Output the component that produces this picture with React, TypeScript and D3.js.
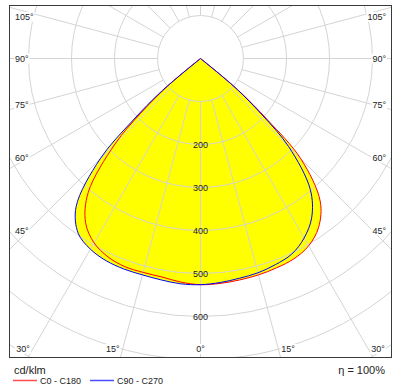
import React, { useRef, useEffect } from "react";
import * as d3 from "d3";

// gamma angles (deg from nadir) and intensities in cd/klm
const gammas = [0, 5, 10, 15, 20, 25, 30, 35, 40, 45, 47.5, 50, 52.5];
const c0 = [526, 525, 523, 521, 518, 514, 503, 479, 433, 330, 212, 112, 0];
const c180 = [526, 522, 516, 515, 515, 509, 495, 466, 406, 281, 190, 100, 0];
const c90 = [526, 523, 519, 516, 510, 502, 482, 451, 397, 290, 195, 105, 0];
const c270 = [526, 526, 523, 521, 521, 519, 512, 496, 450, 330, 215, 115, 0];

const ringValues = [100, 200, 300, 400, 500, 600, 700, 800, 900];
const ringLabels = [200, 300, 400, 500, 600];
const angleLabels = [0, 15, 30, 45, 60, 75, 90, 105];
const gridAngles = d3.range(0, 181, 15);

const legend = [
  { name: "C0 - C180", color: "#ff0000" },
  { name: "C90 - C270", color: "#0000ff" },
];

const W = 401;
const H = 389;
const frame = { left: 9.5, top: 5.5, right: 391.5, bottom: 357.5 };
const cx = 200.5;
const cy = 58.5;
const font = "'Liberation Sans', Arial, sans-serif";

export default function App() {
  const ref = useRef<SVGSVGElement>(null);

  useEffect(() => {
    if (!ref.current) return;
    const svg = d3.select(ref.current);
    svg.selectAll("*").remove();

    const r = d3.scaleLinear().domain([0, 100]).range([0, 43]);
    const rad = (g: number) => (g * Math.PI) / 180;

    svg.append("rect").attr("width", W).attr("height", H).attr("fill", "#fff");

    svg
      .append("clipPath")
      .attr("id", "frameClip")
      .append("rect")
      .attr("x", frame.left)
      .attr("y", frame.top)
      .attr("width", frame.right - frame.left)
      .attr("height", frame.bottom - frame.top);

    const plot = svg
      .append("g")
      .attr("clip-path", "url(#frameClip)")
      .append("g")
      .attr("transform", `translate(${cx},${cy})`);

    // closed curve: left half (C180 / C270) then right half (C0 / C90)
    const makePts = (leftVals: number[], rightVals: number[]) => {
      const pts: [number, number][] = [];
      for (let i = gammas.length - 1; i >= 0; i--)
        pts.push([Math.PI + rad(gammas[i]), leftVals[i]]);
      for (let i = 1; i < gammas.length; i++)
        pts.push([Math.PI - rad(gammas[i]), rightVals[i]]);
      return pts;
    };

    const line = d3
      .lineRadial<[number, number]>()
      .angle((d) => d[0])
      .radius((d) => r(d[1]))
      .curve(d3.curveCatmullRom.alpha(0.5));

    const curves = [
      { pts: makePts(c180, c0), color: legend[0].color },
      { pts: makePts(c270, c90), color: legend[1].color },
    ];

    curves.forEach((c) => {
      plot.append("path").attr("d", line(c.pts) + "Z").attr("fill", "#ffff00");
    });

    // grid
    plot
      .selectAll("circle.ring")
      .data(ringValues)
      .enter()
      .append("circle")
      .attr("r", (d) => r(d))
      .attr("fill", "none")
      .attr("stroke", "#d4d4d4")
      .attr("stroke-width", 1);

    const spokes: number[] = [];
    gridAngles.forEach((g) => {
      spokes.push(g);
      if (g > 0 && g < 180) spokes.push(-g);
    });
    plot
      .selectAll("line.spoke")
      .data(spokes)
      .enter()
      .append("line")
      .attr("x1", (g) => r(100) * Math.sin(rad(g)))
      .attr("y1", (g) => r(100) * Math.cos(rad(g)))
      .attr("x2", (g) => r(1000) * Math.sin(rad(g)))
      .attr("y2", (g) => r(1000) * Math.cos(rad(g)))
      .attr("stroke", "#d4d4d4")
      .attr("stroke-width", 1);

    plot
      .selectAll("text.ring")
      .data(ringLabels)
      .enter()
      .append("text")
      .attr("x", 0)
      .attr("y", (d) => r(d))
      .attr("dy", "0.35em")
      .attr("text-anchor", "middle")
      .attr("font-family", font)
      .attr("font-size", 9)
      .attr("fill", "#222")
      .text((d) => d);

    curves.forEach((c) => {
      plot
        .append("path")
        .attr("d", line(c.pts) + "Z")
        .attr("fill", "none")
        .attr("stroke", c.color)
        .attr("stroke-width", 1);
    });

    // angle labels
    const labG = svg.append("g");
    const bottomY = 349;
    const limit = (Math.atan2(frame.right - cx, frame.bottom - cy) * 180) / Math.PI;
    angleLabels.forEach((g) => {
      [-1, 1].forEach((side) => {
        if (g === 0 && side === 1) return;
        const t = labG
          .append("text")
          .attr("font-family", font)
          .attr("font-size", 9)
          .attr("fill", "#222")
          .attr("dy", "0.35em")
          .text(`${g}°`);
        const w = (t.node() as SVGTextElement).getComputedTextLength();
        let x: number, y: number;
        if (g === 0) {
          x = cx - w / 2;
          y = bottomY;
        } else if (g < limit) {
          const rx = cx + side * (bottomY - cy) * Math.tan(rad(g));
          x = side < 0 ? rx - 3 - w : rx + 3;
          y = bottomY;
        } else if (side < 0) {
          x = frame.left + 5.5;
          const xr = x + w;
          y = cy + (cx - xr) / Math.tan(rad(g));
        } else {
          x = frame.right - 5.5 - w;
          y = cy + (x - cx) / Math.tan(rad(g));
        }
        y = Math.max(y, 17);
        t.attr("x", x).attr("y", y);
        labG
          .insert("rect", "text")
          .attr("x", x - 1)
          .attr("y", y - 5)
          .attr("width", w + 2)
          .attr("height", 10)
          .attr("fill", "#fff");
      });
    });

    // frame
    svg
      .append("rect")
      .attr("x", frame.left)
      .attr("y", frame.top)
      .attr("width", frame.right - frame.left)
      .attr("height", frame.bottom - frame.top)
      .attr("fill", "none")
      .attr("stroke", "#3a3a3a")
      .attr("stroke-width", 1);

    // legend
    svg
      .append("text")
      .attr("x", 14)
      .attr("y", 370)
      .attr("dy", "0.35em")
      .attr("font-family", font)
      .attr("font-size", 11)
      .attr("fill", "#222")
      .text("cd/klm");

    const lg = svg
      .selectAll("g.leg")
      .data(legend)
      .enter()
      .append("g")
      .attr("transform", (_, i) => `translate(${13 + i * 77},380.5)`);
    lg.append("line")
      .attr("x1", 0)
      .attr("x2", 24)
      .attr("stroke", (d) => d.color)
      .attr("stroke-opacity", 0.7)
      .attr("stroke-width", 1.5);
    lg.append("text")
      .attr("x", 27)
      .attr("dy", "0.35em")
      .attr("font-family", font)
      .attr("font-size", 9)
      .attr("fill", "#222")
      .text((d) => d.name);

    svg
      .append("text")
      .attr("x", 385)
      .attr("y", 370)
      .attr("dy", "0.35em")
      .attr("text-anchor", "end")
      .attr("font-family", font)
      .attr("font-size", 11)
      .attr("fill", "#222")
      .text("η = 100%");
  }, []);

  return (
    <svg
      ref={ref}
      width={W}
      height={H}
      style={{ position: "fixed", left: 0, top: 0 }}
    />
  );
}
